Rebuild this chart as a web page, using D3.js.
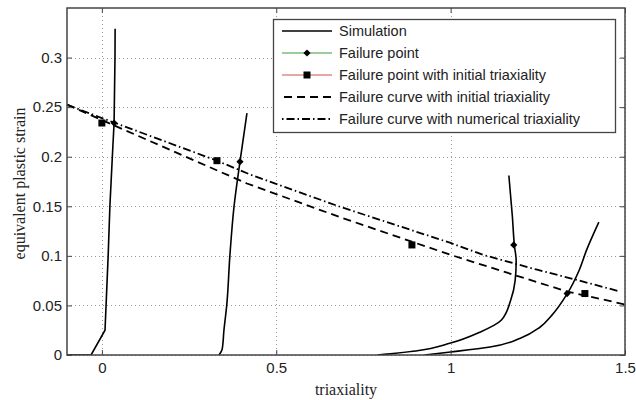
<!DOCTYPE html>
<html>
<head>
<meta charset="utf-8">
<script src="https://cdn.jsdelivr.net/npm/d3@7"></script>
<style>
body{margin:0;background:#fff;}
svg{display:block;}
.tick text{font-family:"Liberation Sans",Arial,sans-serif;font-size:15px;fill:#222;}
</style>
</head>
<body>
<svg id="chart" width="636" height="400"></svg>
<script>
// values
const xTicks=[0,0.5,1,1.5];
const yTicks=[0,0.05,0.1,0.15,0.2,0.25,0.3];
const sim1=[[-0.1,0],[-0.031,0],[0.009,0.025],[0.012,0.05],[0.018,0.1],[0.023,0.15],[0.030,0.2],[0.035,0.234],[0.0376,0.3],[0.038,0.329]];
const sim2=[[0.336,0],[0.345,0.006],[0.350,0.025],[0.358,0.05],[0.367,0.1],[0.379,0.15],[0.396,0.195],[0.416,0.244]];
const sim3=[[0.79,0],[0.9,0.004],[1.0,0.012],[1.084,0.023],[1.145,0.035],[1.172,0.055],[1.185,0.075],[1.188,0.095],[1.183,0.11],[1.177,0.14],[1.167,0.181]];
const sim4=[[0.925,0],[1.0,0.003],[1.113,0.008],[1.2,0.017],[1.256,0.028],[1.29,0.04],[1.334,0.0616],[1.368,0.085],[1.39,0.106],[1.425,0.134]];
const failX=[0.035,0.396,1.181,1.334];
const failY=[0.234,0.195,0.111,0.062];
const initX=[0.0,0.33,0.889,1.385];
const initY=[0.234,0.196,0.111,0.062];
const curveInit=[[-0.1,0.2525],[0.0,0.237],[0.416,0.173],[0.683,0.139],[1.0,0.101],[1.162,0.083],[1.334,0.064],[1.5,0.051]];
const curveNum=[[-0.1,0.2525],[0.0,0.239],[0.33,0.196],[0.425,0.182],[0.683,0.1495],[1.0,0.113],[1.093,0.101],[1.248,0.086],[1.38,0.074],[1.486,0.064]];
const legendNames=["Simulation","Failure point","Failure point with initial triaxiality","Failure curve with initial triaxiality","Failure curve with numerical triaxiality"];

const W=636,H=400,m={l:67,r:11,t:8,b:45};
const svg=d3.select("#chart");
const x=d3.scaleLinear().domain([-0.1,1.5]).range([m.l,W-m.r]);
const y=d3.scaleLinear().domain([0,0.35]).range([H-m.b,m.t]);
const axisCol="#444";

// grid
const grid=svg.append("g").attr("stroke","#9a9a9a").attr("stroke-width",1).attr("stroke-dasharray","1,3");
grid.selectAll("line.gx").data(xTicks).join("line").attr("x1",d=>Math.round(x(d))+0.5).attr("x2",d=>Math.round(x(d))+0.5).attr("y1",y(0.35)).attr("y2",y(0));
grid.selectAll("line.gy").data(yTicks).join("line").attr("y1",d=>Math.round(y(d))+0.5).attr("y2",d=>Math.round(y(d))+0.5).attr("x1",x(-0.1)).attr("x2",x(1.5));

svg.append("clipPath").attr("id","clip").append("rect").attr("x",m.l).attr("y",m.t).attr("width",W-m.l-m.r).attr("height",H-m.t-m.b);
const plot=svg.append("g").attr("clip-path","url(#clip)");
const line=d3.line().x(d=>x(d[0])).y(d=>y(d[1])).curve(d3.curveMonotoneY);
const sline=d3.line().x(d=>x(d[0])).y(d=>y(d[1]));

plot.append("path").attr("d",sline(curveInit)).attr("fill","none").attr("stroke","#000").attr("stroke-width",1.8).attr("stroke-dasharray","8,5");
plot.append("path").attr("d",sline(curveNum)).attr("fill","none").attr("stroke","#000").attr("stroke-width",1.8).attr("stroke-dasharray","8,3,1.5,3");
plot.append("path").attr("d",sline(sim1)).attr("fill","none").attr("stroke","#000").attr("stroke-width",1.6);
[sim2,sim3,sim4].forEach(s=>{
  plot.append("path").attr("d",line(s)).attr("fill","none").attr("stroke","#000").attr("stroke-width",1.6);
});
plot.selectAll("path.fp").data(failX).join("path").attr("class","fp")
  .attr("transform",(d,i)=>"translate("+x(d)+","+y(failY[i])+") rotate(45)")
  .attr("d",d3.symbol().type(d3.symbolSquare).size(26)).attr("fill","#000");
plot.selectAll("rect.ip").data(initX).join("rect").attr("class","ip")
  .attr("x",d=>x(d)-3.5).attr("y",(d,i)=>y(initY[i])-3.5).attr("width",7).attr("height",7).attr("fill","#000");

// axes, MATLAB style box with inward ticks
const tickLen=5;
const ax=d3.axisBottom(x).tickValues(xTicks).tickFormat(d3.format("")).tickSizeInner(-tickLen).tickSizeOuter(0).tickPadding(7);
const gx=svg.append("g").attr("transform","translate(0,"+y(0)+")").call(ax);
const gxt=svg.append("g").attr("transform","translate(0,"+y(0.35)+")").call(d3.axisTop(x).tickValues(xTicks).tickFormat("").tickSizeInner(-tickLen).tickSizeOuter(0));
const ay=d3.axisLeft(y).tickValues(yTicks).tickFormat(d3.format("")).tickSizeInner(-tickLen).tickSizeOuter(0).tickPadding(5);
const gy=svg.append("g").attr("transform","translate("+x(-0.1)+",0)").call(ay);
const gyr=svg.append("g").attr("transform","translate("+x(1.5)+",0)").call(d3.axisRight(y).tickValues(yTicks).tickFormat("").tickSizeInner(-tickLen).tickSizeOuter(0));
[gx,gxt,gy,gyr].forEach(g=>{g.select(".domain").remove();g.selectAll(".tick line").attr("stroke",axisCol);});
gx.selectAll(".tick text").attr("dy","0.75em");
svg.append("rect").attr("x",x(-0.1)).attr("y",y(0.35)).attr("width",x(1.5)-x(-0.1)).attr("height",y(0)-y(0.35))
  .attr("fill","none").attr("stroke",axisCol).attr("stroke-width",1.5);

svg.append("text").attr("x",(x(-0.1)+x(1.5))/2).attr("y",395).attr("text-anchor","middle")
  .style("font-family","'Liberation Serif','Times New Roman',serif").style("font-size","16px").style("fill","#222").text("triaxiality");
svg.append("text").attr("transform","translate(25,"+((y(0)+y(0.35))/2+2)+") rotate(-90)").attr("text-anchor","middle")
  .style("font-family","'Liberation Serif','Times New Roman',serif").style("font-size","16px").style("fill","#222").text("equivalent plastic strain");

// legend
const lg=svg.append("g");
lg.append("rect").attr("x",273.5).attr("y",19.5).attr("width",342).attr("height",113).attr("fill","#fff").attr("stroke",axisCol).attr("stroke-width",1.3);
const rowY=i=>31+i*22;
const lx0=282,lx1=332,lmid=307;
legendNames.forEach((name,i)=>{
  const yy=rowY(i);
  const ln=lg.append("line").attr("x1",lx0).attr("x2",lx1).attr("y1",yy).attr("y2",yy).attr("stroke-width",1.6);
  if(i===0)ln.attr("stroke","#000");
  if(i===1){ln.attr("stroke","#3a9a3a").attr("stroke-width",1.2);lg.append("path").attr("transform","translate("+lmid+","+yy+") rotate(45)").attr("d",d3.symbol().type(d3.symbolSquare).size(26)).attr("fill","#000");}
  if(i===2){ln.attr("stroke","#d05050").attr("stroke-width",1.2);lg.append("rect").attr("x",lmid-3.5).attr("y",yy-3.5).attr("width",7).attr("height",7).attr("fill","#000");}
  if(i===3)ln.attr("stroke","#000").attr("stroke-width",1.8).attr("stroke-dasharray","8,5").attr("stroke-dashoffset",-2);
  if(i===4)ln.attr("stroke","#000").attr("stroke-width",1.8).attr("stroke-dasharray","1.5,3,8,3");
  lg.append("text").attr("x",339).attr("y",yy+5).style("font-family","'Liberation Sans',Arial,sans-serif").style("font-size","14.5px").style("fill","#222").text(name);
});
</script>
</body>
</html>
